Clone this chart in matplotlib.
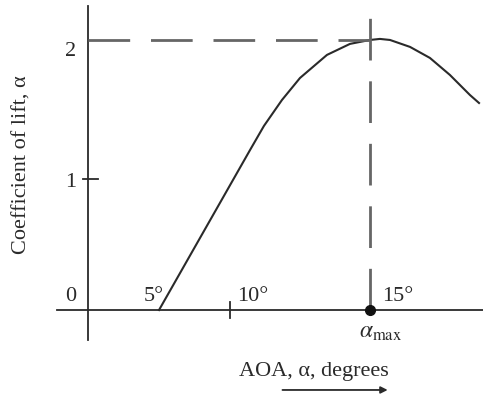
import matplotlib
matplotlib.use("Agg")
import matplotlib.pyplot as plt

# lift curve, angle of attack (deg) vs coefficient of lift
aoa = [5.0, 11.41, 12.39, 13.66, 14.93, 16.83, 18.45, 19.86, 20.56,
       21.27, 22.68, 24.08, 25.49, 26.90, 27.54]
cl = [0.0, 1.221, 1.405, 1.603, 1.771, 1.947, 2.031, 2.061, 2.069,
      2.061, 2.008, 1.924, 1.794, 1.641, 1.580]
alpha_max = 19.86
cl_max = 2.061
y_ticks = [0, 1, 2]
y_labels = ['0', '1', '2']

plt.rcParams['font.family'] = ['Liberation Serif', 'DejaVu Serif']
plt.rcParams['mathtext.fontset'] = 'stix'
ink = '#2a2a2a'

fig = plt.figure(figsize=(4.83, 3.96), dpi=100)
ax = fig.add_axes([0, 0, 1, 1])
ax.set_xlim(-6.2, 27.82)
ax.set_ylim(-0.656, 2.366)
ax.axis('off')

# hand drawn axes
ax.plot([-2.2, 27.82], [0, 0], color=ink, lw=1.3)
ax.plot([0, 0], [-0.23, 2.32], color=ink, lw=1.3)
ax.plot([-0.35, 0.7], [1, 1], color=ink, lw=1.3)
ax.plot([10, 10], [-0.06, 0.06], color=ink, lw=1.3)

# curve
ax.plot(aoa, cl, color=ink, lw=1.5, solid_joinstyle='round')

# max lift guides
ax.plot([0, alpha_max], [cl_max, cl_max], color='#666666', lw=2,
        dashes=(15, 7.5))
ax.plot([alpha_max, alpha_max], [0, 2.28], color='#666666', lw=2,
        dashes=(15, 7.5))
ax.plot([alpha_max], [0], 'o', color='#111111', ms=7)

# labels
for v, s in zip(y_ticks, y_labels):
    yy = v + 0.1 if v == 0 else v - 0.03
    ax.text(-1.2, yy, s, ha='center', va='center', fontsize=16, color=ink)
ax.text(4.6, 0.1, '5°', ha='center', va='center', fontsize=16, color=ink)
ax.text(11.6, 0.1, '10°', ha='center', va='center', fontsize=16, color=ink)
ax.text(21.8, 0.1, '15°', ha='center', va='center', fontsize=16, color=ink)
ax.text(20.6, -0.17, r'$\alpha_{\mathrm{max}}$', ha='center', va='center',
        fontsize=17, color=ink)
ax.text(-4.65, 1.11, 'Coefficient of lift, α', rotation=90, ha='center',
        va='center', fontsize=16, color=ink)
ax.text(15.9, -0.47, 'AOA, α, degrees', ha='center', va='center',
        fontsize=16, color=ink)
ax.annotate('', xy=(21.3, -0.61), xytext=(13.5, -0.61),
            arrowprops=dict(arrowstyle='-|>', color=ink, lw=1.3,
                            mutation_scale=10))

fig.savefig('out.png', dpi=100)
